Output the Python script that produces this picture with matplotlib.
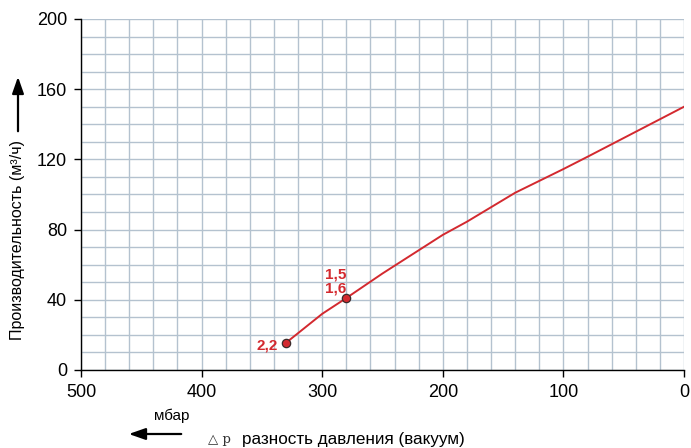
import matplotlib
matplotlib.use("Agg")
import matplotlib.pyplot as plt
import numpy as np

plt.rcParams['font.family'] = ['Liberation Sans', 'DejaVu Sans']

# data
pressure = [330, 300, 280, 250, 200, 180, 140, 100, 80, 0]
flow = [15.5, 32, 41, 55, 77, 84.5, 101, 114.5, 121.5, 150]
marker_x = [330, 280]
marker_y = [15.5, 41]
marker_labels = ["2,2", "1,5\n1,6"]
xticks = [500, 400, 300, 200, 100, 0]
yticks = [0, 40, 80, 120, 160, 200]

W, H = 691, 448
fig = plt.figure(figsize=(W/100, H/100), dpi=100)
ax = fig.add_axes([81/W, 1-370/H, (684-81)/W, (370-19)/H])

grid_c = '#b4c2cf'
for v in np.arange(0, 501, 20):
    ax.axvline(v, color=grid_c, lw=1.0, zorder=0)
for v in np.arange(0, 201, 10):
    ax.axhline(v, color=grid_c, lw=1.0, zorder=0)

red = '#d3292f'
ax.plot(pressure, flow, color=red, lw=1.4, zorder=3)
ax.plot(marker_x, marker_y, 'o', color=red, mec='#3a2a2a', mew=0.9, ms=6, zorder=4)
ax.annotate(marker_labels[0], (marker_x[0], marker_y[0]), xytext=(-6, -2),
            textcoords='offset points', ha='right', va='center',
            color=red, fontweight='bold', fontsize=11)
ax.annotate(marker_labels[1], (marker_x[1], marker_y[1]), xytext=(0, 2),
            textcoords='offset points', ha='right', va='bottom',
            color=red, fontweight='bold', fontsize=11, linespacing=1.0)

ax.set_xlim(500, 0)
ax.set_ylim(0, 200)
ax.set_xticks(xticks)
ax.set_yticks(yticks)
ax.tick_params(labelsize=13, length=5, width=1, colors='black', pad=5)
for s in ['top', 'right']:
    ax.spines[s].set_visible(False)
for s in ['left', 'bottom']:
    ax.spines[s].set_linewidth(1.0)
    ax.spines[s].set_zorder(5)

# y label + arrow
fig.text(18/W, 1-240/H, "Производительность (м³/ч)", rotation=90,
         ha='center', va='center', fontsize=11.5)
fig.patches.append(matplotlib.patches.FancyArrowPatch(
    (18/W, 1-134/H), (18/W, 1-74/H), transform=fig.transFigure,
    arrowstyle='-|>,head_length=10,head_width=3.5', color='black', lw=1.6,
    mutation_scale=1))

# x label + arrow
fig.text(172/W, 1-416/H, "мбар", ha='center', va='center', fontsize=11)
fig.patches.append(matplotlib.patches.FancyArrowPatch(
    (184/W, 1-434/H), (126/W, 1-434/H), transform=fig.transFigure,
    arrowstyle='-|>,head_length=10,head_width=3.5', color='black', lw=1.6,
    mutation_scale=1))
fig.text(208/W, 1-439/H, "△ p", ha='left', va='center', fontsize=9.5,
         family=['DejaVu Serif'], color='#333333')
fig.text(242/W, 1-439/H, "разность давления (вакуум)", ha='left', va='center',
         fontsize=12.3)

fig.savefig("out.png", dpi=100)
